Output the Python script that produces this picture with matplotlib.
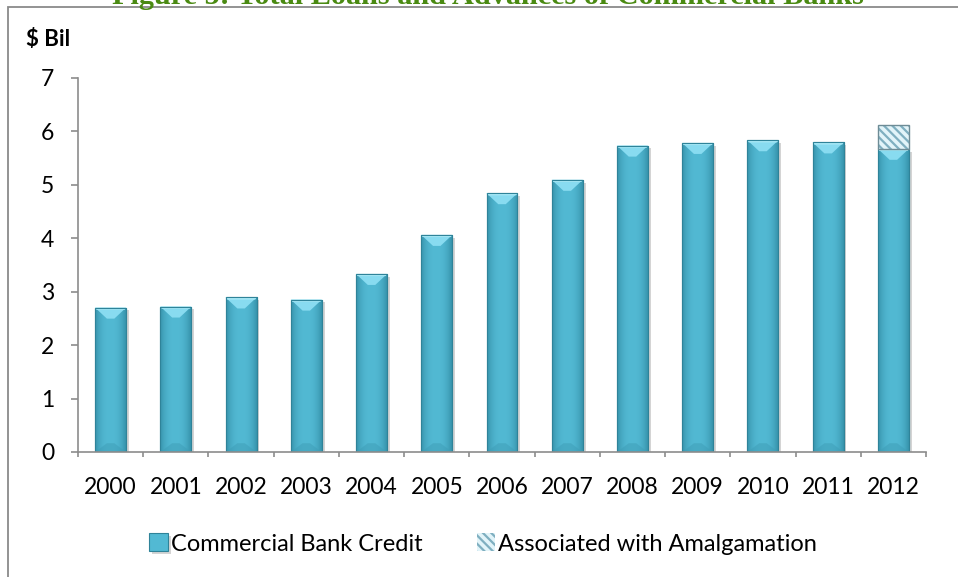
import numpy as np
import matplotlib
matplotlib.use("Agg")
import matplotlib.pyplot as plt
import matplotlib.patheffects as pe
from matplotlib.patches import Rectangle, Polygon
from matplotlib.colors import to_rgb

# ---- data ($ billion) ----
years = ["2000", "2001", "2002", "2003", "2004", "2005", "2006",
         "2007", "2008", "2009", "2010", "2011", "2012"]
credit = [2.70, 2.72, 2.89, 2.85, 3.33, 4.06, 4.84, 5.09, 5.73, 5.78, 5.83, 5.79, 5.67]
amalgamation = [0, 0, 0, 0, 0, 0, 0, 0, 0, 0, 0, 0, 0.44]
yticks = [0, 1, 2, 3, 4, 5, 6, 7]

title = "Figure 5: Total Loans and Advances of Commercial Banks"
ylabel = "$ Bil"
series_names = ["Commercial Bank Credit", "Associated with Amalgamation"]

# ---- style ----
FONT = "Lato"
BAR_MAIN = "#52B9D3"
BAR_EDGE = "#2F8399"
BAR_DARK = "#3793AC"
BAR_LIGHT = "#88DBF0"
AXIS_GREY = "#8C8C8C"
BAR_W = 0.475

W, H, DPI = 958, 577, 100
fig = plt.figure(figsize=(W / DPI, H / DPI), dpi=DPI)

# outer chart frame (runs off the right and bottom edges)
fig.patches.append(Rectangle((8 / W, -0.1), 1.2, (H - 7) / H + 0.1,
                             transform=fig.transFigure, fill=False,
                             edgecolor="#8A8A8A", linewidth=1.3))

# page heading above the frame
fig.text(488 / W, 1 - 4.5 / H, title, ha="center", va="baseline",
         fontsize=21.8, fontweight="bold", family="Liberation Serif",
         color="#4A8A12")

ax = fig.add_axes([78 / W, (H - 452) / H, (926 - 78) / W, (452 - 77.7) / H])
x = np.arange(len(years))

# main bars
bars = ax.bar(x, credit, width=BAR_W, color=BAR_MAIN, edgecolor=BAR_EDGE,
              linewidth=0.8, zorder=2, label=series_names[0])
for b in bars:
    b.set_path_effects([pe.SimplePatchShadow(offset=(2, -2), alpha=0.25,
                                             shadow_rgbFace="#555555"),
                        pe.Normal()])

# horizontal shading across each bar (darker sides, lighter middle)
t = np.linspace(0, 1, 64)
wgt = 1 - np.abs(2 * t - 1) ** 2.5
c_mid, c_side = np.array(to_rgb(BAR_MAIN)), np.array(to_rgb(BAR_DARK))
grad = (c_side[None, :] * (1 - wgt[:, None]) + c_mid[None, :] * wgt[:, None])[None, :, :]

px_per_unit = (452 - 77.7) / 7.0
bevel = 11 / px_per_unit
for b, v in zip(bars, credit):
    x0, x1 = b.get_x(), b.get_x() + b.get_width()
    im = ax.imshow(grad, extent=(x0, x1, 0, v), aspect="auto",
                   origin="lower", zorder=2.1, interpolation="bicubic")
    im.set_clip_path(b)
    xc = 0.5 * (x0 + x1)
    inset = 0.12 * (x1 - x0)
    # bevelled top face
    ax.add_patch(Polygon([(x0, v), (x1, v), (xc + inset, v - bevel),
                          (xc - inset, v - bevel)], closed=True,
                         facecolor=BAR_LIGHT, edgecolor="none", zorder=2.2))
    ax.add_patch(Polygon([(x0, v), (x1, v), (x1 - 0.02, v - 0.04),
                          (x0 + 0.02, v - 0.04)], closed=True,
                         facecolor="#A8E9F7", edgecolor="none", zorder=2.25))
    # subtle bevel at the base
    ax.add_patch(Polygon([(x0, 0), (x1, 0), (xc + inset, bevel * 0.8),
                          (xc - inset, bevel * 0.8)], closed=True,
                         facecolor="#3E9DB6", alpha=0.5, edgecolor="none",
                         zorder=2.2))
    # outline on top of the shading
    ax.add_patch(Rectangle((x0, 0), x1 - x0, v, fill=False,
                           edgecolor=BAR_EDGE, linewidth=0.8, zorder=2.3))

# stacked amalgamation segment
plt.rcParams["hatch.linewidth"] = 1.6
idx = [i for i, a in enumerate(amalgamation) if a > 0]
ax.bar([x[i] for i in idx], [amalgamation[i] for i in idx], width=BAR_W,
       bottom=[credit[i] for i in idx], color="#E2F4F9",
       edgecolor="#7FAFC0", hatch="\\\\\\\\", linewidth=0, zorder=2.4,
       label=series_names[1])
ax.bar([x[i] for i in idx], [amalgamation[i] for i in idx], width=BAR_W,
       bottom=[credit[i] for i in idx], fill=False,
       edgecolor="#6E8C96", linewidth=1.0, zorder=2.5)

# axes
ax.set_xlim(-0.5, len(years) - 0.5)
ax.set_ylim(0, 7)
ax.set_yticks(yticks)
ax.set_yticklabels([str(v) for v in yticks])
ax.set_xticks(x)
ax.set_xticklabels(years)
ax.set_xticks(np.arange(-0.5, len(years)), minor=True)
for s in ("top", "right"):
    ax.spines[s].set_visible(False)
for s in ("left", "bottom"):
    ax.spines[s].set_color(AXIS_GREY)
    ax.spines[s].set_linewidth(1.2)
ax.tick_params(axis="y", length=5, width=1.2, color=AXIS_GREY, pad=12,
               labelsize=16.5)
ax.tick_params(axis="x", which="major", length=0, pad=18, labelsize=16.5)
ax.tick_params(axis="x", which="minor", length=3.5, width=1.2, color=AXIS_GREY)
for lab in ax.get_xticklabels() + ax.get_yticklabels():
    lab.set_family(FONT)
ax.set_facecolor("none")

fig.text(26 / W, 1 - 46 / H, ylabel, ha="left", va="baseline",
         fontsize=16, fontweight="bold", family=FONT)

handles, labels = ax.get_legend_handles_labels()
leg = fig.legend(handles[:2], labels[:2], loc="center", ncol=2,
                 bbox_to_anchor=(483 / W, 1 - 544 / H), frameon=False,
                 prop={"family": FONT, "size": 17}, handlelength=0.8,
                 handleheight=0.8, handletextpad=0.12, columnspacing=2.3)

fig.savefig("out.png", dpi=DPI)
